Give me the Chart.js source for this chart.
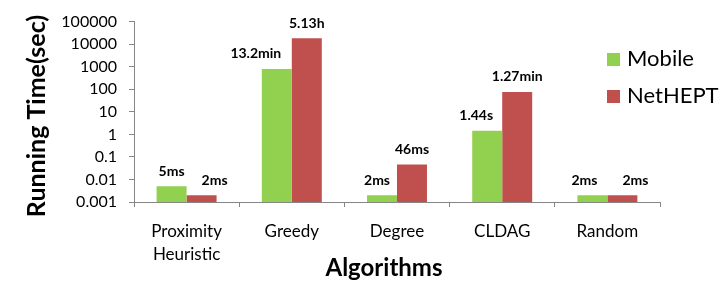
<!DOCTYPE html>
<html>
<head>
<meta charset="utf-8">
<script src="https://cdn.jsdelivr.net/npm/chart.js@4/dist/chart.umd.min.js"></script>
<style>
    html, body { margin: 0; padding: 0; background: #fff; }
</style>
</head>
<body>
<canvas id="myChart" width="721" height="286"></canvas>
<script>
const labels = [['Proximity', 'Heuristic'], 'Greedy', 'Degree', 'CLDAG', 'Random'];

// running time in seconds
const mobile = [0.005, 792, 0.002, 1.44, 0.002];
const netHEPT = [0.002, 18468, 0.046, 76.2, 0.002];

const mobileText = ['5ms', '13.2min', '2ms', '1.44s', '2ms'];
const netHEPTText = ['2ms', '5.13h', '46ms', '1.27min', '2ms'];

const yTicks = [0.001, 0.01, 0.1, 1, 10, 100, 1000, 10000, 100000];

// horizontal nudges for the value labels (like excel moved them)
const labelNudge = [
    [0, -21, -5, -11, -8],
    [13, 0, 0, 0, 13]
];

const FONT = 'Lato, "Open Sans", sans-serif';
const axisColor = '#868686';

const extras = {
    id: 'extras',
    afterDatasetsDraw(chart) {
        const ctx = chart.ctx;
        ctx.save();

        // value labels above bars
        ctx.font = 'bold 14px ' + FONT;
        ctx.fillStyle = '#000';
        ctx.textAlign = 'center';
        ctx.textBaseline = 'middle';
        chart.data.datasets.forEach((ds, i) => {
            chart.getDatasetMeta(i).data.forEach((bar, j) => {
                ctx.fillText(ds.valueText[j], bar.x + labelNudge[i][j], bar.y - 15);
            });
        });

        // legend
        ctx.textAlign = 'left';
        ctx.font = '22px ' + FONT;
        chart.data.datasets.forEach((ds, i) => {
            const y = 59 + i * 37;
            ctx.fillStyle = ds.backgroundColor;
            ctx.fillRect(607, y - 6, 13, 13);
            ctx.fillStyle = '#000';
            ctx.fillText(ds.label, 627, y);
        });

        // axis titles
        ctx.textAlign = 'center';
        ctx.font = 'bold 24px ' + FONT;
        ctx.fillText('Algorithms', 384, 268);

        ctx.translate(37, 116);
        ctx.rotate(-Math.PI / 2);
        ctx.font = 'bold 25px ' + FONT;
        ctx.fillText('Running Time(sec)', 0, 0);

        ctx.restore();
    }
};

const data = {
    labels: labels,
    datasets: [{
        label: 'Mobile',
        backgroundColor: '#92D050',
        data: mobile,
        valueText: mobileText
    }, {
        label: 'NetHEPT',
        backgroundColor: '#C0504D',
        data: netHEPT,
        valueText: netHEPTText
    }]
};

const config = {
    type: 'bar',
    data: data,
    options: {
        responsive: false,
        animation: false,
        layout: { padding: { top: 10, right: 61, left: 0, bottom: 0 } },
        datasets: {
            bar: { categoryPercentage: 0.57, barPercentage: 1.0, borderWidth: 0 }
        },
        plugins: {
            legend: { display: false },
            tooltip: { enabled: false }
        },
        scales: {
            x: {
                offset: true,
                grid: {
                    offset: true,
                    drawOnChartArea: false,
                    drawTicks: true,
                    tickLength: 5,
                    color: axisColor
                },
                border: { color: axisColor },
                ticks: {
                    color: '#000',
                    padding: 13,
                    font: { family: FONT, size: 17, lineHeight: 1.36 },
                    maxRotation: 0
                },
                afterFit: (s) => { s.height = 84; }
            },
            y: {
                type: 'logarithmic',
                min: 0.001,
                max: 100000,
                afterBuildTicks: (s) => { s.ticks = yTicks.map(v => ({ value: v })); },
                grid: {
                    drawOnChartArea: false,
                    drawTicks: true,
                    tickLength: 5,
                    color: axisColor
                },
                border: { color: axisColor },
                ticks: {
                    color: '#000',
                    padding: 12,
                    font: { family: FONT, size: 16 },
                    callback: (v) => String(v)
                },
                afterFit: (s) => { s.width = 134; }
            }
        }
    },
    plugins: [extras]
};

new Chart(document.getElementById('myChart'), config);
</script>
</body>
</html>
